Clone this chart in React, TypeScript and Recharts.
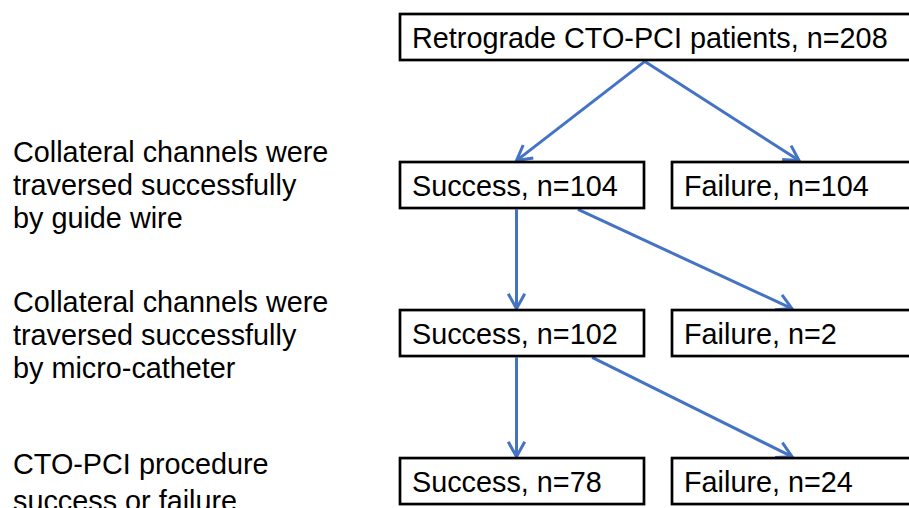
import React from "react";
import { ComposedChart, XAxis, YAxis, Scatter, ReferenceLine } from "recharts";

// layout units: x = column (0 = success column left edge, 1 = failure column left edge), y = level (0 = top)
const nodeLabels = [
  "Retrograde CTO-PCI patients, n=208",
  "Success, n=104",
  "Failure, n=104",
  "Success, n=102",
  "Failure, n=2",
  "Success, n=78",
  "Failure, n=24",
];
const nodeCols = [0, 0, 1, 0, 1, 0, 1];
const nodeLevels = [0, 1, 1, 2, 2, 3, 3];
const nodeWide = [true, false, false, false, false, false, false];

const stepLabels = [
  ["Collateral channels were", "traversed successfully", "by guide wire"],
  ["Collateral channels were", "traversed successfully", "by micro-catheter"],
  ["CTO-PCI procedure", "success or failure"],
];
const stepLevels = [1, 2, 3];
const stepCol = -1.419;

// links: source node, target node, start x, end x (column units)
const linkFrom = [0, 0, 1, 1, 3, 3];
const linkTo = [1, 2, 3, 4, 5, 6];
const linkStartX = [0.904, 0.904, 0.432, 0.658, 0.432, 0.71];
const linkEndX = [0.432, 1.471, 0.432, 1.445, 0.432, 1.445];

const BOX_HALF = 0.165; // half box height in level units
const FONT = "'Liberation Sans', Arial, sans-serif";
const BLUE = "#4472C4";
const STEP_GAP = [33, 33, 37];
const STEP_DY = [0, 1.5, 1];

const nodes = nodeLabels.map((label, i) => ({ x: nodeCols[i], y: nodeLevels[i], label, wide: nodeWide[i] }));
const steps = stepLabels.map((lines, i) => ({ x: stepCol, y: stepLevels[i], lines, idx: i }));

const NodeBox = (props: any) => {
  const { cx, cy, payload } = props;
  const w = payload.wide ? 560 : 244;
  return (
    <g>
      <rect x={cx + 1} y={cy - 23} width={w} height={46} fill="#fff" stroke="#000" strokeWidth={2.7} />
      <text x={cx + 13} y={cy + 11} fontSize={28.8} fontFamily={FONT} fill="#000">
        {payload.label}
      </text>
    </g>
  );
};

const StepText = (props: any) => {
  const { cx, cy, payload } = props;
  const lh = STEP_GAP[payload.idx];
  const first = cy + 10 + STEP_DY[payload.idx] - ((payload.lines.length - 1) * lh) / 2;
  return (
    <text fontSize={28.8} fontFamily={FONT} fill="#000">
      {payload.lines.map((l: string, i: number) => (
        <tspan key={i} x={cx} y={first + i * lh}>
          {l}
        </tspan>
      ))}
    </text>
  );
};

const Arrow = (props: any) => {
  const { x1, y1, x2, y2 } = props;
  const ang = Math.atan2(y2 - y1, x2 - x1);
  const len = 17;
  const spread = (29 * Math.PI) / 180;
  const ax = x2 - len * Math.cos(ang - spread);
  const ay = y2 - len * Math.sin(ang - spread);
  const bx = x2 - len * Math.cos(ang + spread);
  const by = y2 - len * Math.sin(ang + spread);
  return (
    <g>
      <line x1={x1} y1={y1} x2={x2} y2={y2} stroke={BLUE} strokeWidth={3} />
      <polyline points={`${ax},${ay} ${x2},${y2} ${bx},${by}`} fill="none" stroke={BLUE} strokeWidth={3} />
    </g>
  );
};

export default function App() {
  return (
    <div style={{ position: "absolute", left: 0, top: 0, width: 909, height: 508, background: "#fff" }}>
      <ComposedChart width={909} height={508} margin={{ top: 0, right: 0, bottom: 0, left: 0 }}>
        <XAxis type="number" dataKey="x" domain={[-1.4669, 1.875]} allowDataOverflow hide />
        <YAxis type="number" dataKey="y" domain={[-0.25, 3.182]} allowDataOverflow reversed hide />
        {linkFrom.map((f, i) => (
          <ReferenceLine
            key={i}
            ifOverflow="visible"
            segment={[
              { x: linkStartX[i], y: nodeLevels[f] + BOX_HALF },
              { x: linkEndX[i], y: nodeLevels[linkTo[i]] - BOX_HALF },
            ]}
            shape={Arrow}
          />
        ))}
        <Scatter data={nodes} shape={NodeBox} isAnimationActive={false} />
        <Scatter data={steps} shape={StepText} isAnimationActive={false} />
      </ComposedChart>
    </div>
  );
}
